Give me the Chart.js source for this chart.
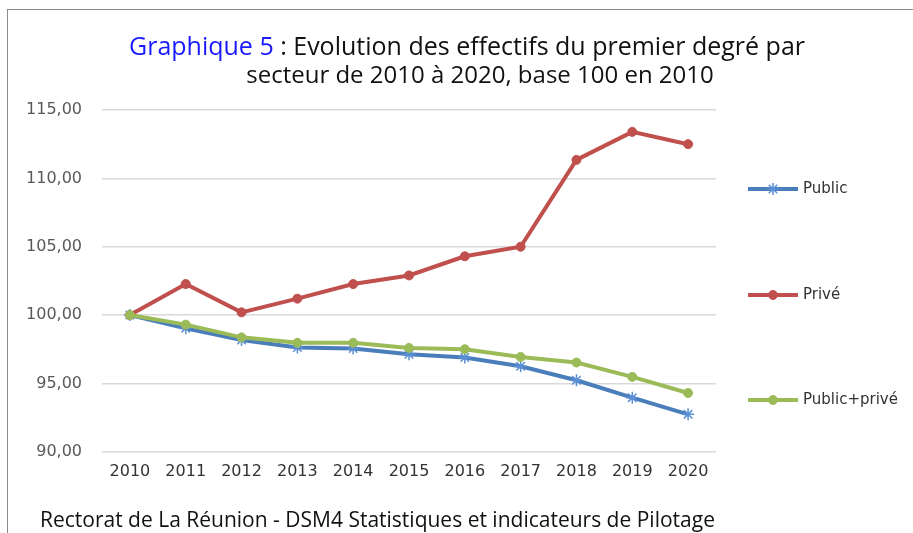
<!DOCTYPE html>
<html>
<head>
<meta charset="utf-8">
<script src="https://cdn.jsdelivr.net/npm/chart.js@4"></script>
<style>
  html, body { margin: 0; padding: 0; background: #fff; overflow: hidden; }
  #frame { position: absolute; left: 7px; top: 9px; width: 920px; height: 540px;
           border-left: 1px solid #8c8c8c; border-top: 1px solid #8c8c8c; }
  .tline { position: absolute; width: 800px; text-align: center;
           font-family: "Open Sans", sans-serif; font-size: 24px; line-height: 30px; color: #111; white-space: nowrap; }
  #t1 { left: 67px; top: 30px; font-size: 25px; }
  #t2 { left: 80px; top: 59px; }
  .blue { color: #1a1aff; }
  #source { position: absolute; left: 40px; top: 505px; font-family: "Open Sans", sans-serif;
            font-size: 21px; line-height: 28px; color: #111; white-space: nowrap; }
  #wrap { position: absolute; left: 0; top: 0; width: 913px; height: 533px; }
</style>
</head>
<body>
<div id="frame"></div>
<div id="wrap"><canvas id="myChart"></canvas></div>
<div class="tline" id="t1"><span class="blue">Graphique 5</span> : Evolution des effectifs du premier degré par</div>
<div class="tline" id="t2">secteur de 2010 à 2020, base 100 en 2010</div>
<div id="source">Rectorat de La Réunion - DSM4 Statistiques et indicateurs de Pilotage</div>
<script>
let years       = ['2010', '2011', '2012', '2013', '2014', '2015', '2016', '2017', '2018', '2019', '2020'];
let publicIdx   = [100, 99.03, 98.17, 97.63, 97.56, 97.14, 96.90, 96.26, 95.23, 93.96, 92.74];
let priveIdx    = [100, 102.27, 100.20, 101.20, 102.27, 102.90, 104.30, 105.00, 111.35, 113.40, 112.50];
let totalIdx    = [100, 99.30, 98.37, 97.97, 97.97, 97.60, 97.50, 96.94, 96.53, 95.48, 94.30];
let yTicks      = [90, 95, 100, 105, 110, 115];

// legend drawn on the right, one entry per dataset, spread like Excel does
const sideLegend = {
    id: 'sideLegend',
    afterDraw(chart) {
        const ctx = chart.ctx;
        const ys = [189, 295, 400];
        chart.data.datasets.forEach((ds, i) => {
            const y = ys[i];
            ctx.save();
            ctx.strokeStyle = ds.borderColor;
            ctx.lineWidth = 4;
            ctx.lineCap = 'butt';
            ctx.beginPath();
            ctx.moveTo(748, y);
            ctx.lineTo(798, y);
            ctx.stroke();
            ctx.fillStyle = ds.pointBackgroundColor;
            ctx.strokeStyle = ds.pointBorderColor;
            ctx.lineWidth = ds.pointBorderWidth;
            Chart.helpers.drawPoint(ctx, {
                pointStyle: ds.pointStyle, radius: ds.pointRadius,
                borderWidth: ds.pointBorderWidth, rotation: 0
            }, 773, y);
            ctx.fillStyle = '#333';
            ctx.font = '15px "DejaVu Sans"';
            ctx.textBaseline = 'middle';
            ctx.textAlign = 'left';
            ctx.fillText(ds.label, 803, y);
            ctx.restore();
        });
    }
};

let ctx = document.getElementById('myChart').getContext('2d');
let chart = new Chart(ctx, {
    type: 'line',
    data: {
        labels: years,
        datasets: [{
            label: 'Public',
            data: publicIdx,
            borderColor: '#4a7ebb',
            borderWidth: 4,
            pointStyle: 'star',
            pointRadius: 6,
            pointBorderWidth: 1.5,
            pointBackgroundColor: '#5b8fd6',
            pointBorderColor: '#5b8fd6',
            order: 3,
        }, {
            label: 'Privé',
            data: priveIdx,
            borderColor: '#c0504d',
            borderWidth: 4,
            pointStyle: 'circle',
            pointRadius: 4.5,
            pointBorderWidth: 1,
            pointBackgroundColor: '#c0504d',
            pointBorderColor: '#c0504d',
            order: 2,
        }, {
            label: 'Public+privé',
            data: totalIdx,
            borderColor: '#9bbb59',
            borderWidth: 4,
            pointStyle: 'circle',
            pointRadius: 4.5,
            pointBorderWidth: 1,
            pointBackgroundColor: '#9bbb59',
            pointBorderColor: '#9bbb59',
            order: 1,
        }]
    },
    options: {
        responsive: true,
        maintainAspectRatio: false,
        animation: false,
        layout: { padding: { left: 20, right: 197, top: 110, bottom: 50 } },
        plugins: {
            legend: { display: false },
            tooltip: { enabled: false },
        },
        scales: {
            x: {
                offset: true,
                grid: { display: false },
                border: { display: false },
                ticks: { color: '#333', padding: 2, font: { family: 'DejaVu Sans', size: 16 } },
            },
            y: {
                min: 90,
                max: 115,
                afterBuildTicks(scale) { scale.ticks = yTicks.map(v => ({ value: v })); },
                grid: { color: '#d9d9d9', lineWidth: 1.5, drawTicks: false },
                border: { display: false },
                ticks: {
                    color: '#595959',
                    padding: 20,
                    font: { family: 'DejaVu Sans', size: 16 },
                    callback: v => v.toFixed(2).replace('.', ','),
                },
                afterFit(scale) { scale.width = 82; },
            }
        }
    },
    plugins: [sideLegend]
});
</script>
</body>
</html>
